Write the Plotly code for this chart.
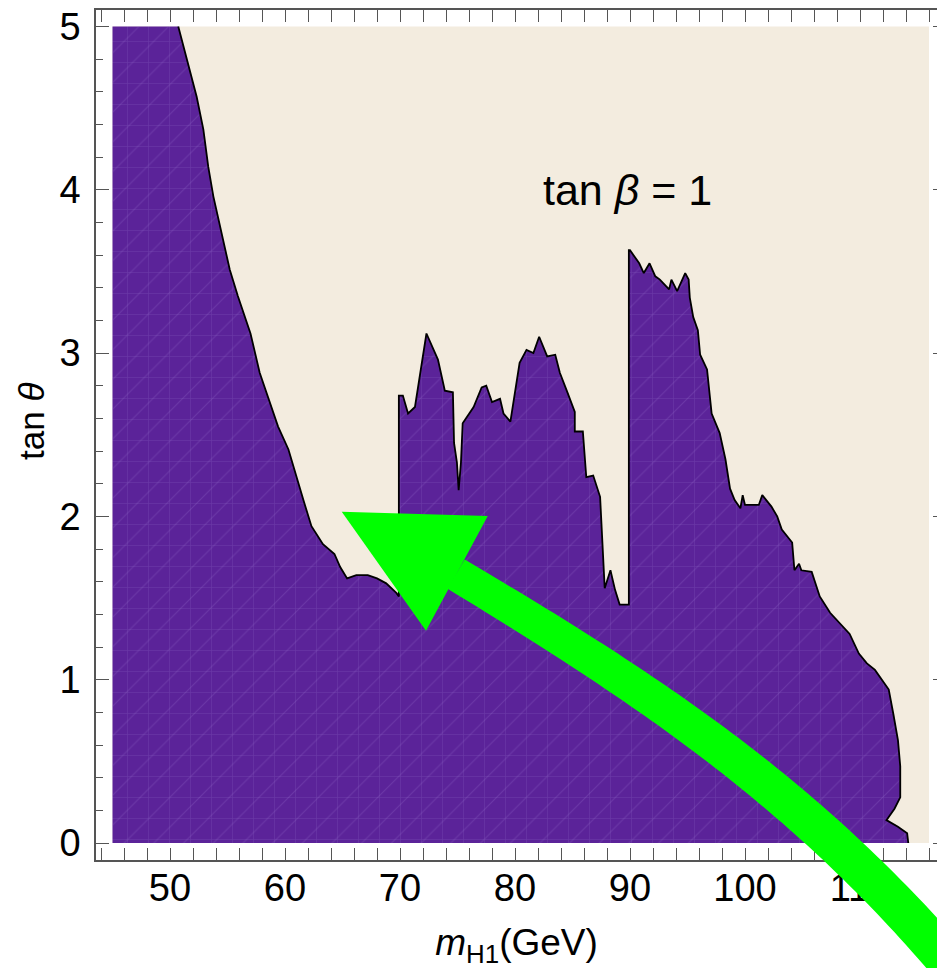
import numpy as np
import plotly.graph_objects as go

# ---- data ----
boundary_x = [50.72, 51.16, 51.68, 52.32, 52.9, 53.33, 53.77, 54.5, 55.2, 55.9, 56.5, 57.0, 57.8, 58.7,
              59.4, 60.3, 60.9, 61.6, 62.3, 63.3, 64.3, 64.8, 65.4, 66.2, 67.2, 68.0, 68.8, 69.7, 69.9,
              69.9, 70.25, 70.7, 71.3, 72.3, 73.3, 73.9, 74.6, 74.7, 74.95, 75.1, 75.3, 75.45, 76.4,
              77.1, 77.5, 78.0, 78.7, 79.0, 79.6, 80.4, 81.0, 81.6, 82.1, 82.8, 83.5, 83.9, 84.5, 85.2,
              85.2, 85.9, 86.2, 86.8, 87.4, 87.8, 88.3, 88.7, 89.1, 89.9, 89.9, 90.0, 90.8, 91.2, 91.7,
              92.2, 92.6, 93.4, 93.6, 94.1, 94.8, 95.1, 95.2, 95.5, 95.9, 96.1, 96.7, 97.1, 97.8, 98.3,
              98.7, 99.1, 99.6, 99.8, 100.0, 101.2, 101.5, 102.3, 102.8, 103.2, 104.1, 104.3, 104.7,
              104.9, 105.8, 106.5, 107.4, 108.4, 109.1, 109.9, 110.6, 111.3, 111.9, 112.5, 112.9, 113.3,
              113.5, 113.5, 113.0, 112.3, 113.3, 114.1, 114.2]
boundary_y = [5.0, 4.88, 4.74, 4.57, 4.37, 4.14, 3.96, 3.73, 3.51, 3.35, 3.22, 3.12, 2.88, 2.69,
              2.55, 2.41, 2.26, 2.10, 1.94, 1.83, 1.77, 1.69, 1.62, 1.64, 1.64, 1.62, 1.59, 1.53, 1.51,
              2.74, 2.74, 2.63, 2.67, 3.12, 2.96, 2.77, 2.76, 2.45, 2.33, 2.16, 2.33, 2.57, 2.67,
              2.79, 2.80, 2.70, 2.72, 2.63, 2.58, 2.94, 3.02, 3.00, 3.10, 2.98, 2.99, 2.88, 2.77, 2.64,
              2.52, 2.52, 2.24, 2.25, 2.12, 1.56, 1.67, 1.55, 1.46, 1.46, 3.63, 3.63, 3.55, 3.49, 3.55,
              3.47, 3.45, 3.39, 3.45, 3.38, 3.49, 3.45, 3.34, 3.22, 3.14, 2.99, 2.90, 2.63, 2.51, 2.35,
              2.17, 2.10, 2.05, 2.13, 2.07, 2.07, 2.13, 2.06, 2.00, 1.92, 1.84, 1.67, 1.71,
              1.67, 1.66, 1.51, 1.41, 1.33, 1.28, 1.16, 1.10, 1.06, 1.00, 0.94, 0.79, 0.63,
              0.47, 0.28, 0.21, 0.14, 0.10, 0.06, 0.0]

scan_x = [45, 116]      # scanned m_H1 range
scan_y = [0, 5]         # scanned tan(theta) range
x_ticks = [50, 60, 70, 80, 90, 100, 110]
y_ticks = [0, 1, 2, 3, 4, 5]

PURPLE = "#5b2399"
MESH = "rgba(150,110,205,0.55)"
BEIGE = "#f3ecdf"
GREEN = "#00ff00"
TICKC = "#555555"
FONT = "Liberation Sans, Arial, Helvetica, sans-serif"

W, H = 937, 968
ML, MR, MT, MB = 96, 0, 10, 108
PW, PH = W - ML - MR, H - MT - MB


def paper(px, py):
    return (px - ML) / PW, (H - MB - py) / PH


fig = go.Figure()

region_x = [scan_x[0], scan_x[0]] + boundary_x
region_y = [scan_y[0], scan_y[1]] + boundary_y
# excluded (purple) region with a faint mesh texture
fig.add_trace(go.Scatter(
    x=region_x, y=region_y, fill="toself", fillcolor=PURPLE, mode="lines", line=dict(width=0),
    fillpattern=dict(shape="+", fgcolor=MESH, bgcolor=PURPLE, size=21, solidity=0.06),
    hoverinfo="skip", showlegend=False))
fig.add_trace(go.Scatter(
    x=region_x, y=region_y, fill="toself", fillcolor="rgba(0,0,0,0)", mode="lines", line=dict(width=0),
    fillpattern=dict(shape="/", fgcolor=MESH, bgcolor="rgba(0,0,0,0)", size=21, solidity=0.05),
    hoverinfo="skip", showlegend=False))
# contour boundary
fig.add_trace(go.Scatter(
    x=boundary_x, y=boundary_y, mode="lines",
    line=dict(color="black", width=1.8), hoverinfo="skip", showlegend=False))
# carrier for the right-hand tick stubs
fig.add_trace(go.Scatter(x=[scan_x[0]], y=[scan_y[0]], yaxis="y2", mode="markers",
                         marker=dict(opacity=0), hoverinfo="skip", showlegend=False))

shapes = [dict(type="rect", xref="x", yref="y", x0=scan_x[0], x1=scan_x[1],
               y0=scan_y[0], y1=scan_y[1], fillcolor=BEIGE, line=dict(width=0), layer="below")]

# green curved arrow (annotation decoration; pixel positions -> paper)
P0, P1, P2, P3 = map(np.array, [(456, 574), (656, 694), (815, 800), (968, 985)])
t = np.linspace(0, 1, 80)[:, None]
B = (1 - t) ** 3 * P0 + 3 * (1 - t) ** 2 * t * P1 + 3 * (1 - t) * t ** 2 * P2 + t ** 3 * P3
D = 3 * (1 - t) ** 2 * (P1 - P0) + 6 * (1 - t) * t * (P2 - P1) + 3 * t ** 2 * (P3 - P2)
D = D / np.linalg.norm(D, axis=1, keepdims=True)
N = np.column_stack([-D[:, 1], D[:, 0]])
half = (17 + 4 * t[:, 0])[:, None]
upper = B + N * half
lower = B - N * half
poly = np.vstack([upper, lower[::-1]])
pp = [paper(px, py) for px, py in poly]
shaft = "M " + " L ".join("{:.4f},{:.4f}".format(a, b) for a, b in pp) + " Z"
shapes.append(dict(type="path", xref="paper", yref="paper", path=shaft,
                   line=dict(width=0), fillcolor=GREEN, layer="above"))
h = [paper(341.7, 511.7), paper(487.7, 516), paper(426, 630.7)]
shapes.append(dict(type="path", xref="paper", yref="paper",
                   path="M {:.4f},{:.4f} L {:.4f},{:.4f} L {:.4f},{:.4f} Z".format(*h[0], *h[1], *h[2]),
                   line=dict(width=0), fillcolor=GREEN, layer="above"))

xr0 = 50 - (170 - ML) / 11.5
xr1 = 50 + (W - MR - 170) / 11.5
yr0 = (843 - (H - MB)) / 163.3
yr1 = (843 - MT) / 163.3

minor_x = dict(dtick=2, tick0=0, ticklen=7, ticks="inside", tickcolor=TICKC, tickwidth=1.2)
minor_y = dict(dtick=0.2, tick0=0, ticklen=7, ticks="inside", tickcolor=TICKC, tickwidth=1.2)

ytitle_x, ytitle_y = paper(31, 422)

fig.update_layout(
    width=W, height=H, margin=dict(l=ML, r=MR, t=MT, b=MB),
    paper_bgcolor="white", plot_bgcolor="white",
    font=dict(family=FONT, color="black"),
    shapes=shapes,
    xaxis=dict(range=[xr0, xr1], tickvals=x_ticks, ticklen=12, ticklabelstandoff=-6,
               showline=True, linecolor=TICKC, linewidth=1.5, mirror="allticks",
               ticks="inside", tickcolor=TICKC, tickwidth=1.2, showgrid=False, zeroline=False,
               tickfont=dict(size=38, color="black", family=FONT), minor=minor_x,
               title=dict(text="<i>m</i><sub>H1</sub>(GeV)", font=dict(size=37), standoff=22)),
    yaxis=dict(range=[yr0, yr1], tickvals=y_ticks, ticklen=13, ticklabelstandoff=6,
               showline=True, linecolor=TICKC, linewidth=1.5, mirror=False,
               ticks="inside", tickcolor=TICKC, tickwidth=1.2, showgrid=False, zeroline=False,
               tickfont=dict(size=38, color="black", family=FONT), minor=minor_y),
    yaxis2=dict(range=[yr0, yr1], overlaying="y", side="right", tickvals=y_ticks,
                showticklabels=False, ticks="inside", ticklen=4, tickcolor=TICKC, tickwidth=1.2,
                showline=False, showgrid=False, zeroline=False),
    annotations=[
        dict(x=89.75, y=4.0, xref="x", yref="y", text="tan <i>β</i> = 1", showarrow=False,
             font=dict(size=43, color="black", family=FONT)),
        dict(x=ytitle_x, y=ytitle_y, xref="paper", yref="paper", text="tan <i>θ</i>", textangle=-90,
             showarrow=False, xanchor="center", yanchor="middle",
             font=dict(size=35, color="black", family=FONT)),
    ],
)

fig.write_html("out.html")
